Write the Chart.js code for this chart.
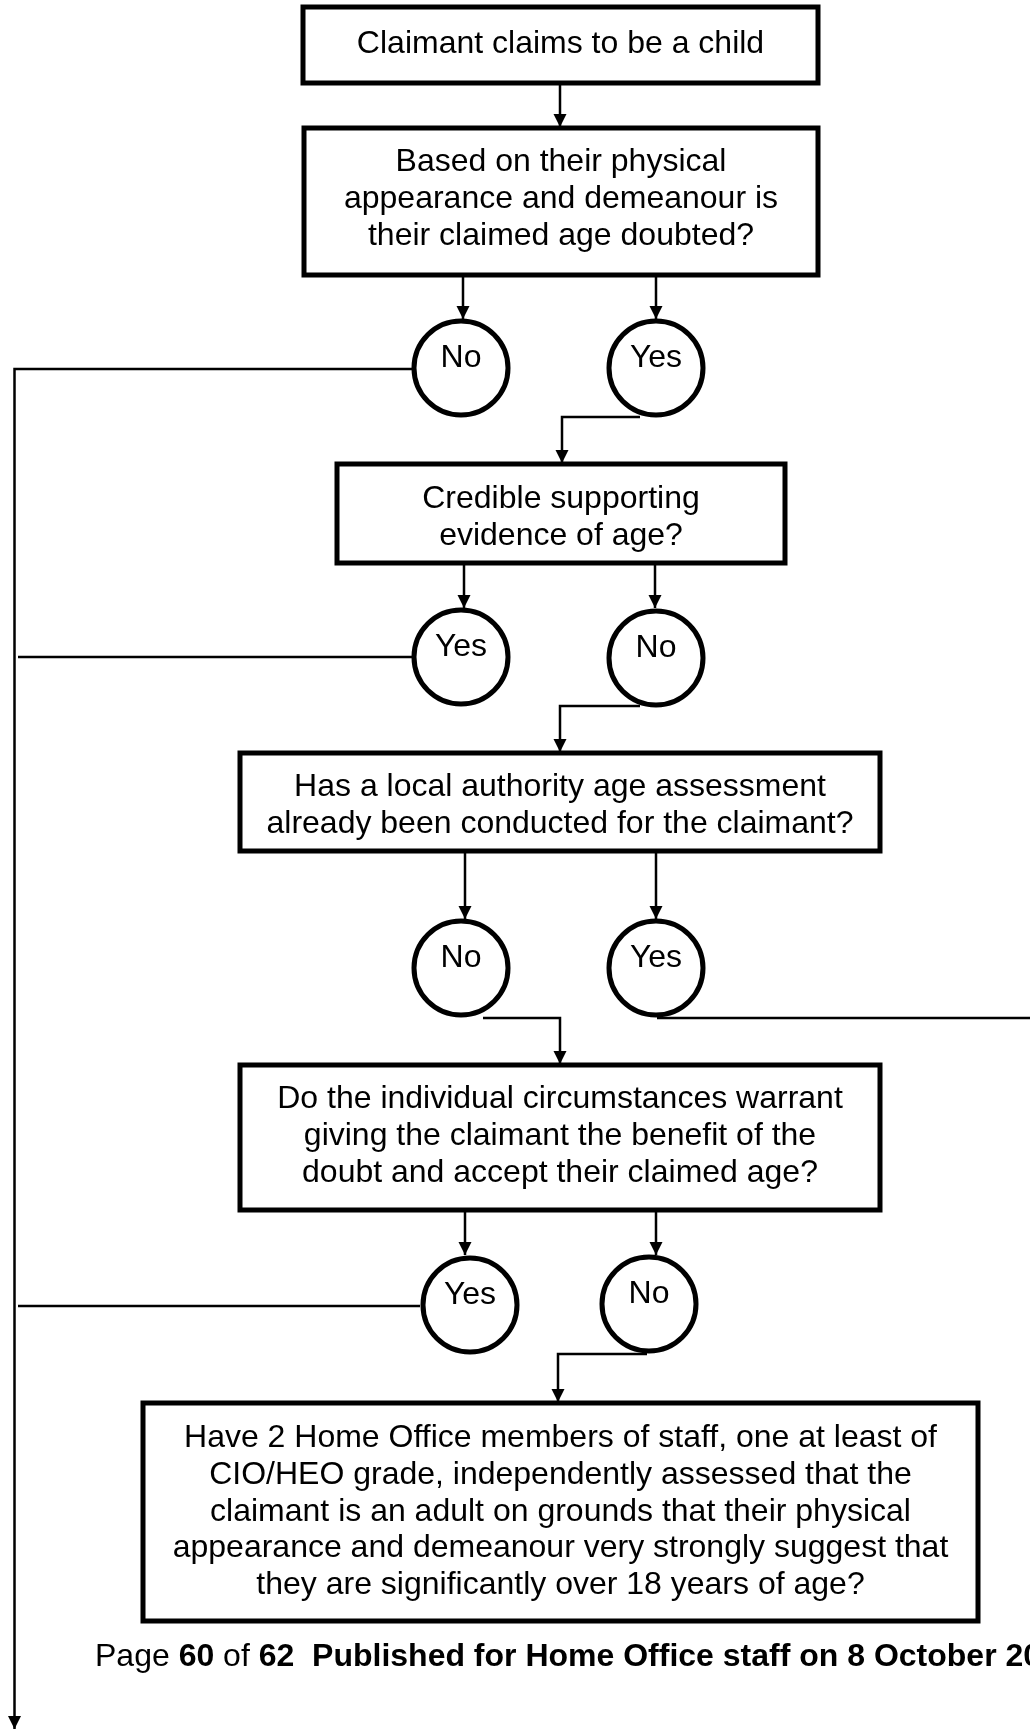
<!DOCTYPE html>
<html>
<head>
<meta charset="utf-8">
<script src="https://cdn.jsdelivr.net/npm/chart.js@4"></script>
<style>
  html, body { margin: 0; padding: 0; background: #fff; }
  #wrap { position: relative; width: 1030px; height: 1729px; }
</style>
</head>
<body>
<div id="wrap"><canvas id="flow"></canvas></div>
<script>
// flowchart content
const questions = [
  ['Claimant claims to be a child'],
  ['Based on their physical', 'appearance and demeanour is', 'their claimed age doubted?'],
  ['Credible supporting', 'evidence of age?'],
  ['Has a local authority age assessment', 'already been conducted for the claimant?'],
  ['Do the individual circumstances warrant', 'giving the claimant the benefit of the', 'doubt and accept their claimed age?'],
  ['Have 2 Home Office members of staff, one at least of', 'CIO/HEO grade, independently assessed that the',
   'claimant is an adult on grounds that their physical', 'appearance and demeanour very strongly suggest that',
   'they are significantly over 18 years of age?']
];
const answers = [['No', 'Yes'], ['Yes', 'No'], ['No', 'Yes'], ['Yes', 'No']];
const footerParts = ['Page ', '60', ' of ', '62', '  Published for Home Office staff on 8 October 2020'];
const footerBold = [false, true, false, true, true];

// layout (page pixels, y downwards)
const boxRects = [[303, 7, 818, 83], [304, 128, 818, 275], [337, 464, 785, 563],
                  [240, 753, 880, 851], [240, 1065, 880, 1210], [143, 1403, 978, 1621]];
const firstBaselines = [53, 171, 508, 796, 1108, 1447];
const lineGap = 36.8;
const circleCenters = [[[461, 368], [656, 368]], [[461, 657], [656, 658]],
                       [[461, 968], [656, 968]], [[470, 1305], [649, 1304]]];
const connectors = [
  [[560, 83], [560, 127], true],
  [[463, 275], [463, 319], true],
  [[656, 275], [656, 319], true],
  [[412, 369], [14.5, 369], [14.5, 1729], true],
  [[640, 417], [562, 417], [562, 463], true],
  [[464, 563], [464, 608], true],
  [[655, 563], [655, 608], true],
  [[413, 657], [18, 657], false],
  [[640, 706], [560, 706], [560, 752], true],
  [[465, 851], [465, 919], true],
  [[656, 851], [656, 919], true],
  [[483, 1018], [560, 1018], [560, 1064], true],
  [[657, 1018], [1032, 1018], false],
  [[465, 1210], [465, 1255], true],
  [[656, 1210], [656, 1255], true],
  [[420, 1306], [18, 1306], false],
  [[647, 1354], [558, 1354], [558, 1402], true]
];
const FONT = "'Liberation Sans', Arial, sans-serif";

const datasets = [];
connectors.forEach(c => {
  const pts = c.filter(p => Array.isArray(p)).map(p => ({ x: p[0], y: p[1] }));
  datasets.push({ type: 'scatter', data: pts, showLine: true, borderColor: '#000', borderWidth: 2.5,
    pointRadius: 0, fill: false, order: 3, clip: false, arrow: c[c.length - 1] === true });
});
boxRects.forEach(r => {
  datasets.push({ type: 'scatter', data: [{ x: r[0], y: r[1] }, { x: r[2], y: r[1] }, { x: r[2], y: r[3] },
    { x: r[0], y: r[3] }, { x: r[0], y: r[1] }], showLine: true, borderColor: '#000', borderWidth: 5,
    borderJoinStyle: 'miter', borderCapStyle: 'square', pointRadius: 0, fill: false, order: 2, clip: false });
});
datasets.push({ type: 'scatter', data: circleCenters.flat().map(p => ({ x: p[0], y: p[1] })),
  pointRadius: 47, pointHoverRadius: 47, pointBorderWidth: 5, pointBackgroundColor: '#fff',
  pointBorderColor: '#000', order: 1, clip: false });

const flowText = {
  id: 'flowText',
  afterDatasetsDraw(chart) {
    const ctx = chart.ctx, xs = chart.scales.x, ys = chart.scales.y;
    ctx.save();
    // arrow heads
    chart.data.datasets.forEach(ds => {
      if (!ds.arrow) return;
      const a = ds.data[ds.data.length - 2], b = ds.data[ds.data.length - 1];
      const x1 = xs.getPixelForValue(a.x), y1 = ys.getPixelForValue(a.y);
      const x2 = xs.getPixelForValue(b.x), y2 = ys.getPixelForValue(b.y);
      const ang = Math.atan2(y2 - y1, x2 - x1), len = 13, hw = 6.5;
      ctx.fillStyle = '#000';
      ctx.beginPath();
      ctx.moveTo(x2, y2);
      ctx.lineTo(x2 - len * Math.cos(ang) + hw * Math.sin(ang), y2 - len * Math.sin(ang) - hw * Math.cos(ang));
      ctx.lineTo(x2 - len * Math.cos(ang) - hw * Math.sin(ang), y2 - len * Math.sin(ang) + hw * Math.cos(ang));
      ctx.closePath();
      ctx.fill();
    });
    ctx.fillStyle = '#000';
    ctx.textAlign = 'center';
    ctx.textBaseline = 'alphabetic';
    ctx.font = '32px ' + FONT;
    questions.forEach((lines, i) => {
      const r = boxRects[i];
      const cx = xs.getPixelForValue((r[0] + r[2]) / 2);
      lines.forEach((t, j) => ctx.fillText(t, cx, ys.getPixelForValue(firstBaselines[i] + j * lineGap)));
    });
    answers.forEach((pair, i) => pair.forEach((t, j) => {
      const c = circleCenters[i][j];
      ctx.fillText(t, xs.getPixelForValue(c[0]), ys.getPixelForValue(c[1] - 1));
    }));
    // footer
    ctx.textAlign = 'left';
    let fx = xs.getPixelForValue(95);
    const fy = ys.getPixelForValue(1666);
    footerParts.forEach((t, i) => {
      ctx.font = (footerBold[i] ? 'bold ' : '') + '32px ' + FONT;
      ctx.fillText(t, fx, fy);
      fx += ctx.measureText(t).width;
    });
    ctx.restore();
  }
};

new Chart(document.getElementById('flow'), {
  type: 'scatter',
  data: { datasets: datasets },
  options: {
    responsive: true,
    maintainAspectRatio: false,
    animation: false,
    events: [],
    layout: { padding: 0, autoPadding: false },
    plugins: { legend: { display: false }, tooltip: { enabled: false } },
    scales: {
      x: { type: 'linear', display: false, min: 0, max: 1030 },
      y: { type: 'linear', display: false, min: 0, max: 1729, reverse: true }
    }
  },
  plugins: [flowText]
});
</script>
</body>
</html>
